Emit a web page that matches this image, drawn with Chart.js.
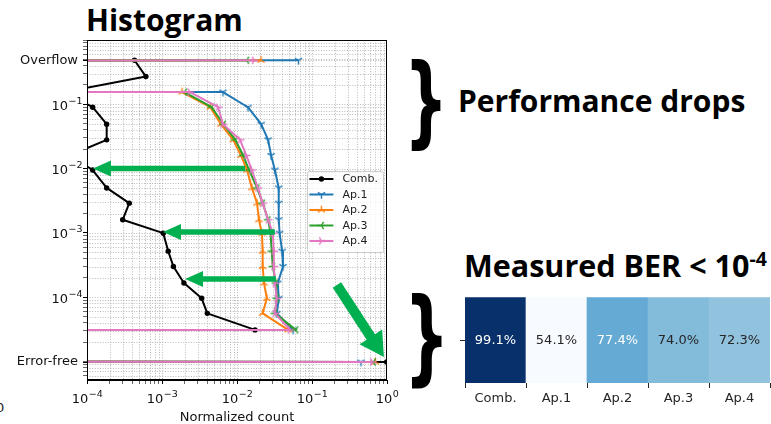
<!DOCTYPE html>
<html>
<head>
<meta charset="utf-8">
<title>BER histogram</title>
<script src="https://cdn.jsdelivr.net/npm/chart.js@4.4.1/dist/chart.umd.min.js"></script>
<style>
  html, body { margin: 0; padding: 0; background: #fff; }
  #page { position: relative; width: 771px; height: 424px; overflow: hidden; }
  .heading { position: absolute; margin: 0; font-family: "Open Sans", "Noto Sans", sans-serif; font-weight: 700; color: #000; white-space: nowrap; line-height: 1; }
  .heading sup { font-size: 0.64em; vertical-align: 0; position: relative; top: -0.58em; }
  .brace { position: absolute; font-family: "DejaVu Sans", sans-serif; font-weight: 700; line-height: 1; color: #000; transform: scaleX(0.62); transform-origin: 0 0; }
  .stray { position: absolute; font-family: "DejaVu Sans", sans-serif; font-size: 13px; color: #222; line-height: 1; }
  canvas { position: absolute; }
</style>
</head>
<body>
<div id="page">
  <div class="heading" style="left:86px; top:5px; font-size:30px;">Histogram</div>
  <div class="brace" style="left:404px; top:51px; font-size:100px;">}</div>
  <div class="heading" style="left:458px; top:86px; font-size:30px;">Performance drops</div>
  <div class="heading" style="left:464px; top:250px; font-size:30.5px;">Measured BER &lt; 10<sup>-4</sup></div>
  <div class="brace" style="left:404px; top:285px; font-size:103px;">}</div>
  <div class="stray" style="left:-4px; top:401px;">0</div>
  <canvas id="hist" width="400" height="424" style="left:0;top:0;"></canvas>
  <canvas id="heat" width="331" height="134" style="left:440px;top:290px;"></canvas>
</div>
<script>
// ---- Histogram data -------------------------------------------------------
// BER bins, top row to bottom row: overflow row, measured BER bins, error-free row
const OVERFLOW_BER = 0.484;      // display row for frames beyond the BER range
const ERROR_FREE_BER = 9.8e-6;   // display row for frames with no bit errors
const BER_BINS = [OVERFLOW_BER, 0.27, 0.155, 0.090, 0.049, 0.028, 0.016, 0.0095, 0.0050, 0.0029,
                  0.0016, 0.00099, 0.00052, 0.00030, 0.000166, 0.000096, 0.000056,
                  0.000031, 0.000018, ERROR_FREE_BER];

const SERIES_NAMES = ['Comb.', 'Ap.1', 'Ap.2', 'Ap.3', 'Ap.4'];

// normalized count of frames per BER bin (0 = empty bin)
const COMB = [4.3e-4, 6.1e-4, 5.1e-5, 1.19e-4, 1.83e-4, 1.83e-4, 5.9e-5, 1.19e-4, 1.83e-4, 3.66e-4,
              2.99e-4, 1.04e-3, 1.21e-3, 1.42e-3, 1.96e-3, 3.38e-3, 4.02e-3, 0.0174, 0, 0.991];
const AP1  = [0.066, 0, 0.0065, 0.014, 0.021, 0.026, 0.0285, 0.032, 0.036, 0.036,
              0.036, 0.037, 0.040, 0.041, 0.035, 0.036, 0.034, 0.056, 0, 0.45];
const AP2  = [0.0209, 0, 0.00185, 0.0044, 0.0061, 0.0089, 0.0113, 0.0136, 0.0158, 0.0185,
              0.0196, 0.0215, 0.022, 0.022, 0.0229, 0.025, 0.022, 0.048, 0, 0.70];
const AP3  = [0.0135, 0, 0.0020, 0.0046, 0.0066, 0.0095, 0.0121, 0.0145, 0.0185, 0.022,
              0.026, 0.028, 0.029, 0.030, 0.033, 0.034, 0.032, 0.061, 0, 0.66];
const AP4  = [0.017, 0, 0.00236, 0.0056, 0.0065, 0.011, 0.0133, 0.0158, 0.019, 0.022,
              0.026, 0.030, 0.031, 0.031, 0.032, 0.034, 0.032, 0.051, 0, 0.64];

// tick labels; "base^exponent" labels are set with a raised exponent
const X_TICKS = [1e-4, 1e-3, 1e-2, 1e-1, 1];
const X_TICK_LABELS = ['10^\u22124', '10^\u22123', '10^\u22122', '10^\u22121', '10^0'];
const Y_TICKS = [OVERFLOW_BER, 1e-1, 1e-2, 1e-3, 1e-4, ERROR_FREE_BER];
const Y_TICK_LABELS = ['Overflow', '10^\u22121', '10^\u22122', '10^\u22123', '10^\u22124', 'Error-free'];

// ---- Heatmap data ---------------------------------------------------------
const HEAT_LABELS = ['Comb.', 'Ap.1', 'Ap.2', 'Ap.3', 'Ap.4'];
const HEAT_VALUES = [99.1, 54.1, 77.4, 74.0, 72.3];   // % of frames with BER < 1e-4

// ---- Styling ----------------------------------------------------------------
const COLORS = ['#000000', '#1f77b4', '#ff7f0e', '#2ca02c', '#e377c2'];
const FONT_FAMILY = '"DejaVu Sans", sans-serif';
const TICK_FONT = { family: FONT_FAMILY, size: 13 };
const X_MIN = 1e-4, X_MAX = 1, Y_MIN = 5.15e-6, Y_MAX = 1.0;
const ZERO_COUNT = 1e-300;   // empty bins land far off the left edge of the log axis

// green call-out arrows, placed in data units of the histogram
const ARROWS = [
  { from: [0.0128, 1e-2],     to: [1.2e-4, 1e-2],      shaft: 5.5, head: 16, headLen: 18 },
  { from: [0.032, 1.03e-3],   to: [1.03e-3, 1.03e-3],  shaft: 5.5, head: 16, headLen: 18 },
  { from: [0.033, 1.92e-4],   to: [2.03e-3, 1.92e-4],  shaft: 5.5, head: 16, headLen: 18 },
  { from: [0.215, 1.55e-4],   to: [0.91, 1.17e-5],     shaft: 10,  head: 27, headLen: 24 }
];

// matplotlib-style tri markers ('1' down, '2' up, '3' left, '4' right)
function triMarker(color, kind) {
  const c = document.createElement('canvas');
  c.width = 11; c.height = 11;
  const g = c.getContext('2d');
  const r = 4.2, cx = 5.5, cy = 5.5, s = 0.866;
  const dirs = {
    down:  [[0, 1], [-s, -0.5], [s, -0.5]],
    up:    [[0, -1], [-s, 0.5], [s, 0.5]],
    left:  [[-1, 0], [0.5, -s], [0.5, s]],
    right: [[1, 0], [-0.5, -s], [-0.5, s]]
  }[kind];
  g.strokeStyle = color; g.lineWidth = 1.4; g.lineCap = 'butt';
  g.beginPath();
  dirs.forEach(([dx, dy]) => { g.moveTo(cx, cy); g.lineTo(cx + dx * r, cy + dy * r); });
  g.stroke();
  return c;
}
const MARKERS = ['circle', triMarker(COLORS[1], 'down'), triMarker(COLORS[2], 'up'),
                 triMarker(COLORS[3], 'left'), triMarker(COLORS[4], 'right')];

function toPoints(counts) {
  return counts.map((c, i) => ({ x: c > 0 ? c : ZERO_COUNT, y: BER_BINS[i] }));
}

function logTicks(min, max, majors) {
  const out = [];
  for (let e = Math.floor(Math.log10(min)); e <= Math.ceil(Math.log10(max)); e++) {
    for (let k = 1; k <= 9; k++) {
      const v = k * Math.pow(10, e);
      if (v >= min * 0.999999 && v <= max * 1.000001) out.push(v);
    }
  }
  majors.forEach(m => { if (!out.some(v => Math.abs(Math.log10(v) - Math.log10(m)) < 1e-6)) out.push(m); });
  return out.sort((a, b) => a - b);
}
function findLabel(v, vals, labels) {
  const i = vals.findIndex(m => Math.abs(Math.log10(v) - Math.log10(m)) < 1e-6);
  return i < 0 ? '' : labels[i];
}
// plain labels go through Chart.js; power labels are set by the plugin below
const plainLabel = (v, vals, labels) => { const s = findLabel(v, vals, labels); return s.includes('^') ? '' : s; };

const series = [COMB, AP1, AP2, AP3, AP4];
const datasets = series.map((counts, i) => ({
  label: SERIES_NAMES[i],
  data: toPoints(counts),
  showLine: true,
  borderColor: COLORS[i],
  backgroundColor: COLORS[i],
  borderWidth: 2,
  borderJoinStyle: 'round',
  pointStyle: MARKERS[i],
  pointRadius: i === 0 ? 2.7 : 3,
  pointBorderWidth: 0,
  order: series.length - 1 - i
}));

function drawArrow(ctx, x0, y0, x1, y1, a) {
  const dx = x1 - x0, dy = y1 - y0, len = Math.hypot(dx, dy);
  const ux = dx / len, uy = dy / len, nx = -uy, ny = ux;
  const bx = x1 - ux * a.headLen, by = y1 - uy * a.headLen;
  const hs = a.shaft / 2, hh = a.head / 2;
  ctx.beginPath();
  ctx.moveTo(x0 + nx * hs, y0 + ny * hs);
  ctx.lineTo(bx + nx * hs, by + ny * hs);
  ctx.lineTo(bx + nx * hh, by + ny * hh);
  ctx.lineTo(x1, y1);
  ctx.lineTo(bx - nx * hh, by - ny * hh);
  ctx.lineTo(bx - nx * hs, by - ny * hs);
  ctx.lineTo(x0 - nx * hs, y0 - ny * hs);
  ctx.closePath();
  ctx.fill();
}

// draws "10" with a raised exponent; align: 'center' or 'right'
function drawPower(ctx, label, x, baseline, align) {
  const [base, exp] = label.split('^');
  ctx.font = `13px ${FONT_FAMILY}`;
  const w1 = ctx.measureText(base).width;
  ctx.font = `9.5px ${FONT_FAMILY}`;
  const w2 = ctx.measureText(exp).width;
  const x0 = align === 'right' ? x - w1 - w2 : x - (w1 + w2) / 2;
  ctx.textAlign = 'left';
  ctx.textBaseline = 'alphabetic';
  ctx.font = `13px ${FONT_FAMILY}`;
  ctx.fillText(base, x0, baseline);
  ctx.font = `9.5px ${FONT_FAMILY}`;
  ctx.fillText(exp, x0 + w1 + 0.5, baseline - 6);
}

const histDecor = {
  id: 'histDecor',
  beforeDatasetsDraw(chart) {
    const { ctx, chartArea: a, scales: { x, y } } = chart;
    ctx.save();
    ctx.strokeStyle = '#a8a8a8';
    ctx.lineWidth = 0.8;
    ctx.setLineDash([1, 1.6]);
    ctx.beginPath();
    x.ticks.forEach(t => {
      const px = Math.round(x.getPixelForValue(t.value)) + 0.5;
      if (px <= a.left + 1 || px >= a.right - 1) return;
      ctx.moveTo(px, a.top); ctx.lineTo(px, a.bottom);
    });
    y.ticks.forEach(t => {
      const py = Math.round(y.getPixelForValue(t.value)) + 0.5;
      if (py <= a.top + 1 || py >= a.bottom - 1) return;
      ctx.moveTo(a.left, py); ctx.lineTo(a.right, py);
    });
    ctx.stroke();
    ctx.restore();

    // power-of-ten tick labels
    ctx.save();
    ctx.fillStyle = '#111';
    X_TICKS.forEach((v, i) => {
      if (X_TICK_LABELS[i].includes('^')) drawPower(ctx, X_TICK_LABELS[i], x.getPixelForValue(v), a.bottom + 23, 'center');
    });
    Y_TICKS.forEach((v, i) => {
      if (Y_TICK_LABELS[i].includes('^')) drawPower(ctx, Y_TICK_LABELS[i], a.left - 5, y.getPixelForValue(v) + 5.5, 'right');
    });
    ctx.restore();
  },
  afterDatasetsDraw(chart) {
    const { ctx, chartArea: a, scales: { x, y } } = chart;
    const sets = chart.data.datasets;

    // legend, centre right
    ctx.save();
    ctx.font = `11px ${FONT_FAMILY}`;
    const rowH = 15.5, handle = 24, gap = 9;
    const textW = Math.max(...sets.map(d => ctx.measureText(d.label).width));
    const w = 2 + handle + gap + textW + 5;
    const h = 81;
    const bx = a.right - 4 - w;
    const by = (a.top + a.bottom) / 2 - h / 2 + 1;
    ctx.fillStyle = 'rgba(255,255,255,0.8)';
    ctx.strokeStyle = '#cccccc';
    ctx.lineWidth = 1;
    ctx.beginPath();
    ctx.roundRect(Math.round(bx) + 0.5, Math.round(by) + 0.5, Math.round(w), h, 2);
    ctx.fill(); ctx.stroke();
    sets.forEach((d, i) => {
      const cy = by + 8.5 + rowH * i;
      const lx = bx + 2;
      ctx.strokeStyle = d.borderColor; ctx.lineWidth = 2;
      ctx.beginPath(); ctx.moveTo(lx, cy); ctx.lineTo(lx + handle, cy); ctx.stroke();
      const m = d.pointStyle, mx = lx + handle / 2;
      if (typeof m === 'string') {
        ctx.fillStyle = d.borderColor;
        ctx.beginPath(); ctx.arc(mx, cy, d.pointRadius, 0, Math.PI * 2); ctx.fill();
      } else {
        ctx.drawImage(m, mx - m.width / 2, cy - m.height / 2);
      }
      ctx.fillStyle = '#222';
      ctx.textBaseline = 'middle';
      ctx.textAlign = 'left';
      ctx.fillText(d.label, lx + handle + gap, cy + 0.5);
    });
    ctx.restore();

    // frame
    ctx.save();
    ctx.strokeStyle = '#000';
    ctx.lineWidth = 1;
    ctx.strokeRect(Math.round(a.left) + 0.5, Math.round(a.top) + 0.5,
                   Math.round(a.right - a.left) - 1, Math.round(a.bottom - a.top) - 1);
    ctx.restore();

    // call-out arrows
    ctx.save();
    ctx.fillStyle = '#00b050';
    ARROWS.forEach(ar => {
      drawArrow(ctx, x.getPixelForValue(ar.from[0]), y.getPixelForValue(ar.from[1]),
                x.getPixelForValue(ar.to[0]), y.getPixelForValue(ar.to[1]), ar);
    });
    ctx.restore();
  }
};

new Chart(document.getElementById('hist'), {
  type: 'scatter',
  data: { datasets },
  options: {
    responsive: false,
    animation: false,
    devicePixelRatio: 1,
    layout: { padding: { top: 40, right: 13, left: 0, bottom: 0 } },
    plugins: { legend: { display: false }, tooltip: { enabled: false } },
    scales: {
      x: {
        type: 'logarithmic', min: X_MIN, max: X_MAX, bounds: 'data',
        afterBuildTicks: s => {
          s.ticks = logTicks(X_MIN, X_MAX, X_TICKS).map(v => ({ value: v, major: findLabel(v, X_TICKS, X_TICK_LABELS) !== '' }));
        },
        ticks: { autoSkip: false, maxRotation: 0, font: TICK_FONT, color: '#111', padding: 5,
                 callback: v => plainLabel(v, X_TICKS, X_TICK_LABELS) },
        grid: { drawOnChartArea: false, tickLength: 4, tickColor: '#000',
                tickWidth: c => (c.tick && c.tick.major ? 1 : 0.6) },
        border: { color: '#000', width: 1 },
        title: { display: true, text: 'Normalized count', font: TICK_FONT, color: '#111', padding: { top: 0, bottom: -1 } },
        afterFit: s => { s.height = 44; }
      },
      y: {
        type: 'logarithmic', min: Y_MIN, max: Y_MAX, bounds: 'data',
        afterBuildTicks: s => {
          s.ticks = logTicks(Y_MIN, Y_MAX, Y_TICKS).map(v => ({ value: v, major: findLabel(v, Y_TICKS, Y_TICK_LABELS) !== '' }));
        },
        ticks: { autoSkip: false, font: TICK_FONT, color: '#111', padding: 5,
                 callback: v => plainLabel(v, Y_TICKS, Y_TICK_LABELS) },
        grid: { drawOnChartArea: false, tickLength: 4, tickColor: '#000',
                tickWidth: c => (c.tick && c.tick.major ? 1 : 0.6) },
        border: { color: '#000', width: 1 },
        afterFit: s => { s.width = 87; }
      }
    }
  },
  plugins: [histDecor]
});

// ---- Heatmap ----------------------------------------------------------------
const BLUES = ['#f7fbff', '#deebf7', '#c6dbef', '#9ecae1', '#6baed6', '#4292c6', '#2171b5', '#08519c', '#08306b'];
function hexRgb(h) { return [1, 3, 5].map(i => parseInt(h.slice(i, i + 2), 16)); }
function blues(t) {
  t = Math.min(1, Math.max(0, t));
  const p = t * (BLUES.length - 1);
  const i = Math.min(Math.floor(p), BLUES.length - 2), f = p - i;
  const a = hexRgb(BLUES[i]), b = hexRgb(BLUES[i + 1]);
  return a.map((c, k) => Math.round(c + (b[k] - c) * f));
}
function luminance(rgb) {
  const lin = rgb.map(c => { c /= 255; return c <= 0.03928 ? c / 12.92 : Math.pow((c + 0.055) / 1.055, 2.4); });
  return 0.2126 * lin[0] + 0.7152 * lin[1] + 0.0722 * lin[2];
}
const vMin = Math.min(...HEAT_VALUES), vMax = Math.max(...HEAT_VALUES);
const cellRgb = HEAT_VALUES.map(v => blues((v - vMin) / (vMax - vMin)));

const cellLabels = {
  id: 'cellLabels',
  afterDatasetsDraw(chart) {
    const { ctx, chartArea: a } = chart;
    const meta = chart.getDatasetMeta(0);
    ctx.save();
    ctx.font = `13px ${FONT_FAMILY}`;
    ctx.textAlign = 'center';
    ctx.textBaseline = 'middle';
    meta.data.forEach((bar, i) => {
      ctx.fillStyle = luminance(cellRgb[i]) < 0.408 ? '#ffffff' : '#262626';
      ctx.fillText(HEAT_VALUES[i].toFixed(1) + '%', bar.x, (a.top + a.bottom) / 2 + 0.5);
    });
    ctx.restore();
  }
};

new Chart(document.getElementById('heat'), {
  type: 'bar',
  data: {
    labels: HEAT_LABELS,
    datasets: [{
      data: HEAT_LABELS.map(() => [0, 1]),   // one heatmap row
      backgroundColor: cellRgb.map(c => `rgb(${c[0]},${c[1]},${c[2]})`),
      borderWidth: 0,
      categoryPercentage: 1,
      barPercentage: 1
    }]
  },
  options: {
    responsive: false,
    animation: false,
    devicePixelRatio: 1,
    layout: { padding: { top: 7, right: 1, left: 0, bottom: 0 } },
    plugins: { legend: { display: false }, tooltip: { enabled: false } },
    scales: {
      x: {
        grid: { drawOnChartArea: false, tickLength: 5, tickColor: '#262626' },
        border: { display: false },
        ticks: { font: TICK_FONT, color: '#262626', padding: 3, maxRotation: 0 },
        afterFit: s => { s.height = 41; }
      },
      y: {
        min: 0, max: 1,
        afterBuildTicks: s => { s.ticks = [{ value: 0.5 }]; },
        ticks: { callback: () => '', padding: 0 },
        grid: { drawOnChartArea: false, tickLength: 5, tickColor: '#262626' },
        border: { display: false },
        afterFit: s => { s.width = 25; }
      }
    }
  },
  plugins: [cellLabels]
});
</script>
</body>
</html>
